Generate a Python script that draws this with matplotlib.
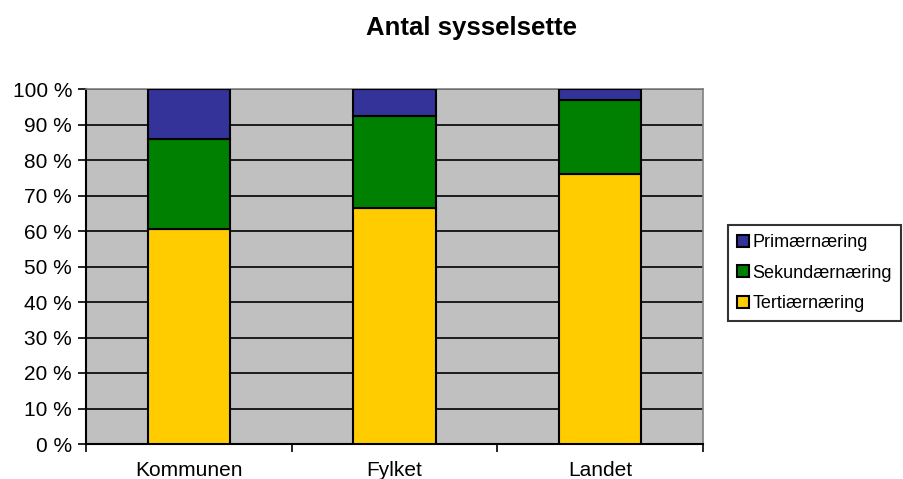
import matplotlib
matplotlib.use("Agg")
import matplotlib.pyplot as plt
import numpy as np
from matplotlib.ticker import FixedLocator, NullFormatter

plt.rcParams['font.family'] = ['Liberation Sans', 'DejaVu Sans']

categories = ["Kommunen", "Fylket", "Landet"]
tertiaer = [60.5, 66.5, 76.0]
sekundaer = [25.5, 26.0, 21.0]
primaer = [14.0, 7.5, 3.0]
series_names = ["Primærnæring", "Sekundærnæring", "Tertiærnæring"]
colors = {"Primærnæring": "#333399", "Sekundærnæring": "#008000", "Tertiærnæring": "#FFCC00"}

fig = plt.figure(figsize=(9.04, 4.79), dpi=100)
ax = fig.add_axes([86 / 904, 1 - 444 / 479, (703 - 86) / 904, (444 - 89) / 479])
ax.set_facecolor("#C0C0C0")

x = np.arange(len(categories))
w = 0.4
b1 = ax.bar(x, tertiaer, w, color=colors["Tertiærnæring"], edgecolor="black", linewidth=1.5, zorder=3)
bottom2 = np.array(tertiaer)
b2 = ax.bar(x, sekundaer, w, bottom=bottom2, color=colors["Sekundærnæring"], edgecolor="black", linewidth=1.5, zorder=3)
bottom3 = bottom2 + np.array(sekundaer)
b3 = ax.bar(x, primaer, w, bottom=bottom3, color=colors["Primærnæring"], edgecolor="black", linewidth=1.5, zorder=3)

ax.set_xlim(-0.5, len(categories) - 0.5)
ax.set_ylim(0, 100)
ax.set_yticks(np.arange(0, 101, 10))
ax.set_yticklabels([f"{v} %" for v in range(0, 101, 10)], fontsize=15)
ax.yaxis.grid(True, color="black", linewidth=1.2, zorder=1)
ax.set_axisbelow(True)

ax.set_xticks(x)
ax.set_xticklabels(categories, fontsize=15)
ax.tick_params(axis="x", which="major", length=0, pad=12)
ax.xaxis.set_minor_locator(FixedLocator(np.arange(-0.5, len(categories), 1.0)))
ax.xaxis.set_minor_formatter(NullFormatter())
ax.tick_params(axis="x", which="minor", length=6, width=1.2, direction="out", color="black")
ax.tick_params(axis="y", length=6, width=1.2, direction="out", pad=4)

for s in ["top", "right"]:
    ax.spines[s].set_color("#808080")
    ax.spines[s].set_linewidth(1.2)
for s in ["left", "bottom"]:
    ax.spines[s].set_color("black")
    ax.spines[s].set_linewidth(1.5)

fig.text(472 / 904, 1 - 28 / 479, "Antal sysselsette", ha="center", va="center",
         fontsize=18.5, fontweight="bold")

leg = fig.legend([b3, b2, b1], series_names, loc="upper left",
                 bbox_to_anchor=(728 / 904, 1 - 225 / 479), fontsize=13,
                 frameon=True, fancybox=False, edgecolor="black",
                 handlelength=0.65, handleheight=0.65, handletextpad=0.2,
                 borderpad=0.5, labelspacing=0.75, borderaxespad=0)
leg.get_frame().set_linewidth(1.5)

fig.savefig("out.png", dpi=100)
